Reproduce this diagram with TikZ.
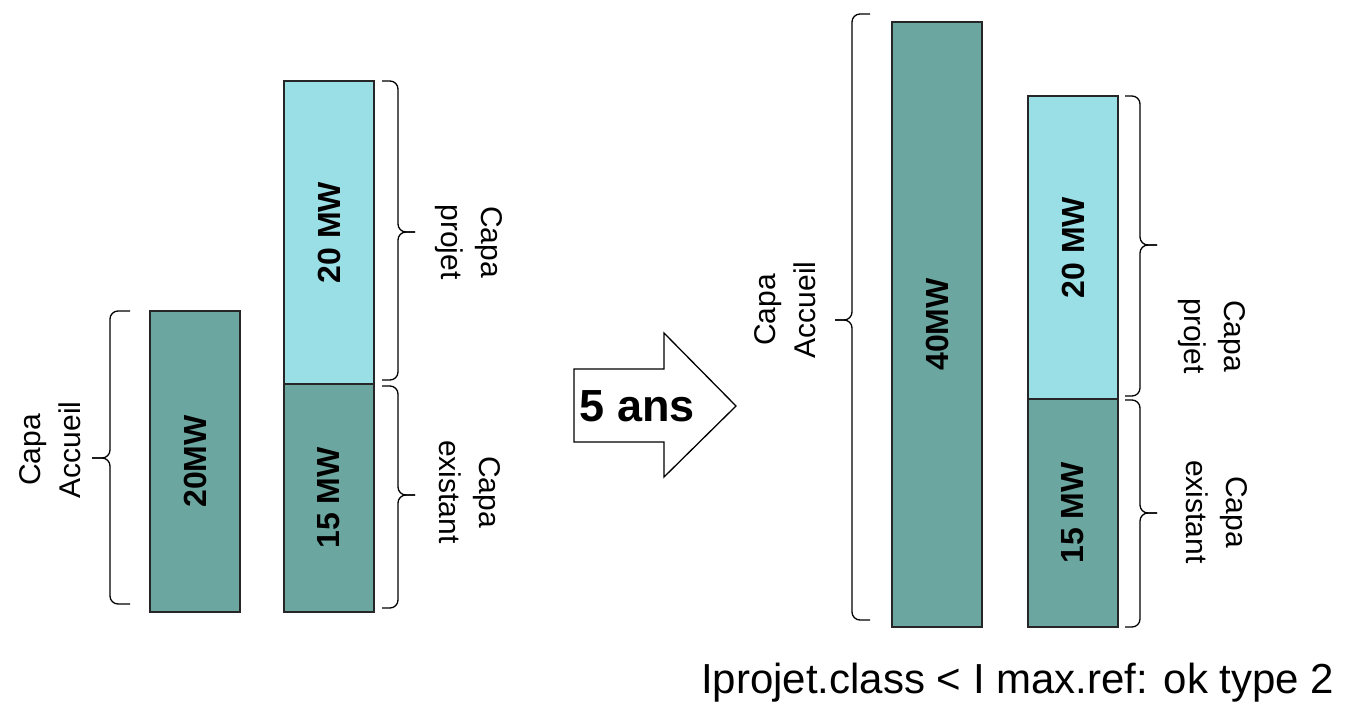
\documentclass[tikz,border=0pt]{standalone}
\usepackage{fontspec}
\setmainfont{Liberation Sans}
\begin{document}
\begin{tikzpicture}[x=1pt,y=-1pt,
  bar/.style={draw=black!85,line width=1.6pt,inner sep=0pt,minimum width=90pt},
  darkbar/.style={bar,fill=teal1},
  lightbar/.style={bar,fill=cyan1},
  barlabel/.style={rotate=90,font=\fontsize{32}{36}\bfseries\selectfont},
  caplabel/.style={align=center,font=\fontsize{30}{40}\selectfont,inner sep=0pt},
  brc/.style={draw=black,line width=1.3pt,rounded corners=8pt}]
\definecolor{teal1}{HTML}{6BA7A0}
\definecolor{cyan1}{HTML}{9ADEE6}
\useasboundingbox (0,0) rectangle (1347,702);

% ---- before: current situation ----
\node[darkbar,minimum height=301pt] (acc1) at (195,461.5) {};
\node[barlabel] (acc1t) at (acc1.center) {20MW};
\node[lightbar,minimum height=303pt] (proj1) at (329,232.5) {};
\node[barlabel] (proj1t) at (proj1.center) {20 MW};
\node[darkbar,minimum height=228pt] (ex1) at (329,498) {};
\node[barlabel] (ex1t) at (ex1.center) {15 MW};

\draw[brc] (130,311) -- (110,311) -- (110,458) -- (92,458);
\draw[brc] (92,458) -- (110,458) -- (110,604) -- (130,604);
\node[caplabel,rotate=90] (cacc1) at (50,450) {Capa\\Accueil};

\draw[brc] (382,81) -- (398,81) -- (398,232) -- (415,232);
\draw[brc] (415,232) -- (398,232) -- (398,380) -- (382,380);
\node[caplabel,rotate=-90] (cproj1) at (469,242) {Capa\\projet};

\draw[brc] (382,386) -- (398,386) -- (398,495) -- (415,495);
\draw[brc] (415,495) -- (398,495) -- (398,608) -- (382,608);
\node[caplabel,rotate=-90] (cex1) at (470,492) {Capa\\existant};

% ---- arrow ----
\draw[line width=1.3pt,fill=white] (574,369) -- (664,369) -- (664,333) -- (736,406)
  -- (664,477) -- (664,442) -- (574,442) -- cycle;
\node[font=\fontsize{45}{50}\bfseries\selectfont,inner sep=0pt] (ans) at (637.5,406) {5 ans};

% ---- after five years ----
\node[darkbar,minimum height=605pt] (acc2) at (937,324.5) {};
\node[barlabel] (acc2t) at (acc2.center) {40MW};
\node[lightbar,minimum height=303pt] (proj2) at (1073,247.5) {};
\node[barlabel] (proj2t) at (proj2.center) {20 MW};
\node[darkbar,minimum height=228pt] (ex2) at (1073,513) {};
\node[barlabel] (ex2t) at (ex2.center) {15 MW};

\draw[brc] (870,14) -- (852,14) -- (852,320) -- (835,320);
\draw[brc] (835,320) -- (852,320) -- (852,620) -- (870,620);
\node[caplabel,rotate=90] (cacc2) at (785,310) {Capa\\Accueil};

\draw[brc] (1125,96) -- (1140,96) -- (1140,245) -- (1157,245);
\draw[brc] (1157,245) -- (1140,245) -- (1140,396) -- (1125,396);
\node[caplabel,rotate=-90] (cproj2) at (1212,336) {Capa\\projet};

\draw[brc] (1125,400) -- (1140,400) -- (1140,513) -- (1157,513);
\draw[brc] (1157,513) -- (1140,513) -- (1140,627) -- (1125,627);
\node[caplabel,rotate=-90] (cex2) at (1217,512) {Capa\\existant};

\node[anchor=base west,inner sep=0pt,font=\fontsize{42}{48}\selectfont] (cond) at (701,693)
  {Iprojet.class < I max.ref: ok type 2};
\end{tikzpicture}
\end{document}
